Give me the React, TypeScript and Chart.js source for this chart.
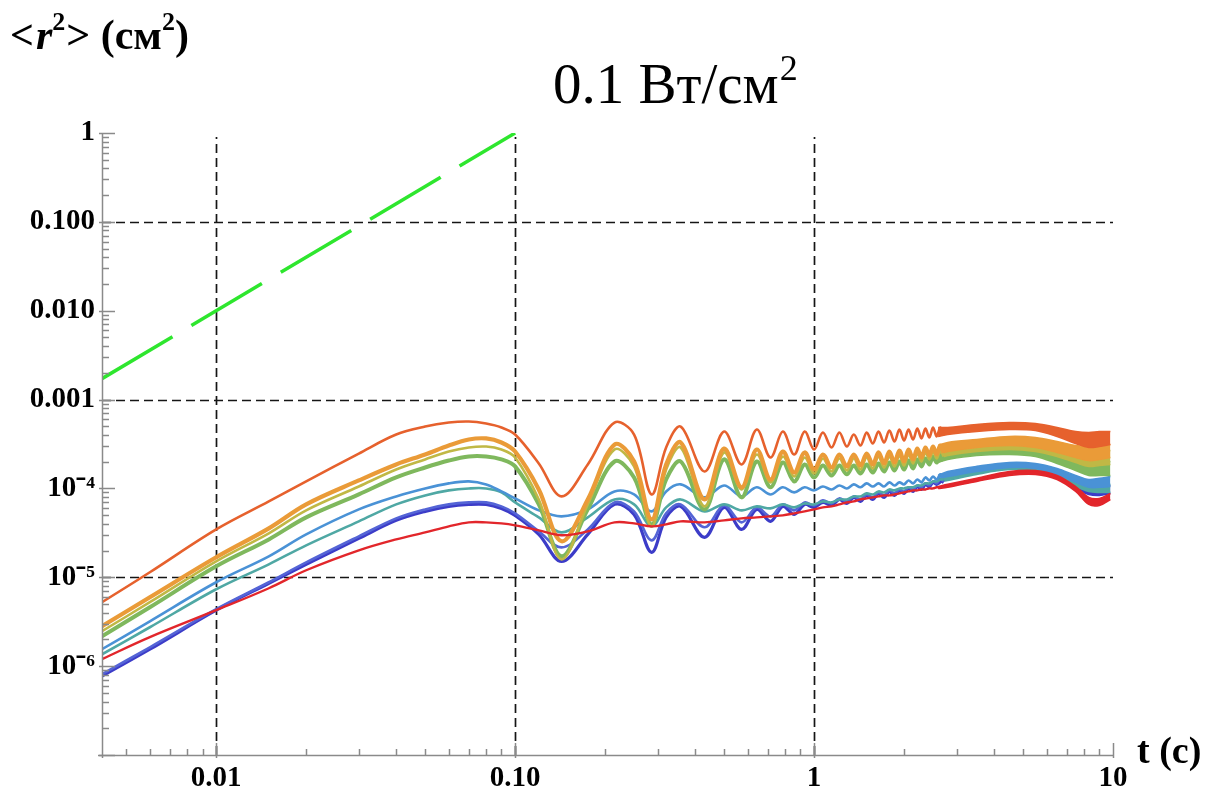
import React, { useEffect, useRef } from 'react';
import { Chart, registerables } from 'chart.js';

Chart.register(...registerables);

// ---- time grid (s) for the resolved part of the curves ----
const T = [0.00415, 0.006, 0.01, 0.015, 0.02, 0.03, 0.04, 0.05, 0.06, 0.07, 0.08, 0.09, 0.1, 0.12, 0.143, 0.175, 0.215, 0.25, 0.286, 0.32, 0.358, 0.43, 0.5, 0.572, 0.643, 0.715, 0.786, 0.858, 0.93, 1.0, 1.07, 1.144, 1.215, 1.287, 1.358, 1.43, 1.5, 1.572, 1.643, 1.715, 1.786, 1.858, 1.93, 2.0, 2.07, 2.144, 2.215, 2.287, 2.358, 2.43, 2.5, 2.572, 2.643, 2.715];

// <r^2> (cm^2) series
const S_ORANGERED = [5.24e-6, 1.14e-5, 3.46e-5, 7.14e-5, 1.20e-4, 2.47e-4, 4.04e-4, 4.97e-4, 5.51e-4, 5.66e-4, 5.37e-4, 4.85e-4, 4.04e-4, 1.91e-4, 8.13e-5, 1.86e-4, 5.51e-4, 4.04e-4, 8.56e-5, 2.89e-4, 4.97e-4, 1.55e-4, 4.37e-4, 1.86e-4, 4.60e-4, 2.23e-4, 4.37e-4, 2.41e-4, 4.37e-4, 2.74e-4, 4.26e-4, 2.89e-4, 4.26e-4, 2.96e-4, 4.04e-4, 3.04e-4, 4.26e-4, 3.20e-4, 4.37e-4, 3.29e-4, 4.48e-4, 3.37e-4, 4.60e-4, 3.46e-4, 4.60e-4, 3.55e-4, 4.72e-4, 3.65e-4, 4.72e-4, 3.74e-4, 4.85e-4, 3.84e-4, 4.85e-4, 3.94e-4];
const S_ORANGE = [2.81e-6, 5.96e-6, 1.68e-5, 3.55e-5, 6.61e-5, 1.23e-4, 1.86e-4, 2.41e-4, 3.04e-4, 3.55e-4, 3.65e-4, 3.29e-4, 2.60e-4, 9.74e-5, 2.54e-5, 7.52e-5, 3.12e-4, 2.01e-4, 4.48e-5, 1.86e-4, 3.29e-4, 7.52e-5, 2.81e-4, 1.03e-4, 2.74e-4, 1.26e-4, 2.60e-4, 1.51e-4, 2.54e-4, 1.63e-4, 2.41e-4, 1.72e-4, 2.41e-4, 1.77e-4, 2.41e-4, 1.81e-4, 2.47e-4, 1.86e-4, 2.54e-4, 1.91e-4, 2.60e-4, 1.96e-4, 2.67e-4, 2.01e-4, 2.74e-4, 2.12e-4, 2.81e-4, 2.23e-4, 2.89e-4, 2.35e-4, 2.96e-4, 2.41e-4, 3.04e-4, 2.54e-4];
const S_OLIVE = [2.47e-6, 5.24e-6, 1.51e-5, 3.12e-5, 5.66e-5, 1.05e-4, 1.63e-4, 2.12e-4, 2.60e-4, 2.89e-4, 2.96e-4, 2.74e-4, 2.23e-4, 7.52e-5, 1.59e-5, 6.61e-5, 2.74e-4, 1.77e-4, 3.74e-5, 1.63e-4, 2.89e-4, 6.28e-5, 2.54e-4, 9.74e-5, 2.41e-4, 1.17e-4, 2.29e-4, 1.36e-4, 2.23e-4, 1.47e-4, 2.17e-4, 1.55e-4, 2.17e-4, 1.59e-4, 2.17e-4, 1.63e-4, 2.23e-4, 1.68e-4, 2.29e-4, 1.72e-4, 2.29e-4, 1.77e-4, 2.35e-4, 1.81e-4, 2.41e-4, 1.91e-4, 2.47e-4, 2.01e-4, 2.54e-4, 2.12e-4, 2.60e-4, 2.17e-4, 2.67e-4, 2.29e-4];
const S_GREEN = [2.17e-6, 4.60e-6, 1.33e-5, 2.67e-5, 4.72e-5, 8.56e-5, 1.33e-4, 1.72e-4, 2.06e-4, 2.29e-4, 2.29e-4, 2.12e-4, 1.77e-4, 6.61e-5, 1.72e-5, 5.81e-5, 2.01e-4, 1.33e-4, 3.94e-5, 1.26e-4, 2.01e-4, 5.81e-5, 2.12e-4, 7.93e-5, 2.01e-4, 1.03e-4, 1.96e-4, 1.20e-4, 1.86e-4, 1.33e-4, 1.81e-4, 1.40e-4, 1.81e-4, 1.44e-4, 1.81e-4, 1.47e-4, 1.86e-4, 1.51e-4, 1.91e-4, 1.55e-4, 1.96e-4, 1.59e-4, 2.01e-4, 1.63e-4, 2.06e-4, 1.68e-4, 2.12e-4, 1.77e-4, 2.17e-4, 1.86e-4, 2.29e-4, 1.96e-4, 2.35e-4, 2.06e-4];
const S_LIGHTBLUE = [1.55e-6, 3.20e-6, 8.79e-6, 1.72e-5, 3.04e-5, 5.81e-5, 8.13e-5, 1.00e-4, 1.14e-4, 1.20e-4, 1.11e-4, 9.25e-5, 7.72e-5, 5.66e-5, 4.85e-5, 5.81e-5, 9.25e-5, 8.56e-5, 5.52e-5, 9.25e-5, 1.11e-4, 7.93e-5, 1.08e-4, 8.13e-5, 1.03e-4, 8.56e-5, 1.03e-4, 9.02e-5, 1.03e-4, 9.50e-5, 1.05e-4, 9.74e-5, 1.08e-4, 1.00e-4, 1.11e-4, 1.03e-4, 1.14e-4, 1.05e-4, 1.14e-4, 1.05e-4, 1.17e-4, 1.08e-4, 1.17e-4, 1.11e-4, 1.23e-4, 1.14e-4, 1.26e-4, 1.17e-4, 1.33e-4, 1.23e-4, 1.36e-4, 1.26e-4, 1.44e-4, 1.33e-4];
const S_TEAL = [1.36e-6, 2.74e-6, 7.33e-6, 1.40e-5, 2.29e-5, 4.26e-5, 6.61e-5, 8.35e-5, 9.50e-5, 1.00e-4, 1.00e-4, 9.02e-5, 6.96e-5, 4.72e-5, 3.20e-5, 4.72e-5, 7.52e-5, 6.61e-5, 3.74e-5, 6.12e-5, 7.52e-5, 5.52e-5, 6.61e-5, 5.66e-5, 6.28e-5, 5.96e-5, 6.61e-5, 6.12e-5, 6.78e-5, 6.61e-5, 7.14e-5, 6.96e-5, 7.52e-5, 7.52e-5, 8.13e-5, 8.13e-5, 8.79e-5, 8.56e-5, 9.25e-5, 9.02e-5, 9.74e-5, 9.50e-5, 1.00e-4, 1.00e-4, 1.03e-4, 1.03e-4, 1.08e-4, 1.08e-4, 1.14e-4, 1.14e-4, 1.20e-4, 1.20e-4, 1.26e-4, 1.26e-4];
const S_INDIGO = [7.72e-7, 1.55e-6, 4.26e-6, 8.57e-6, 1.40e-5, 2.74e-5, 4.37e-5, 5.52e-5, 6.28e-5, 6.61e-5, 6.61e-5, 5.96e-5, 4.97e-5, 3.04e-5, 1.51e-5, 3.04e-5, 6.61e-5, 5.10e-5, 1.91e-5, 4.72e-5, 6.28e-5, 2.82e-5, 6.12e-5, 3.46e-5, 5.81e-5, 4.26e-5, 6.28e-5, 5.10e-5, 6.61e-5, 6.12e-5, 6.96e-5, 6.44e-5, 7.52e-5, 6.78e-5, 7.93e-5, 7.14e-5, 8.35e-5, 7.52e-5, 8.79e-5, 7.93e-5, 9.25e-5, 8.35e-5, 9.50e-5, 8.79e-5, 1.00e-4, 9.25e-5, 1.05e-4, 9.74e-5, 1.11e-4, 1.05e-4, 1.17e-4, 1.11e-4, 1.23e-4, 1.17e-4];
const S_BLUE = [8.13e-7, 1.63e-6, 4.37e-6, 8.79e-6, 1.47e-5, 2.89e-5, 4.60e-5, 5.81e-5, 6.61e-5, 6.96e-5, 6.96e-5, 6.28e-5, 5.24e-5, 3.29e-5, 2.17e-5, 3.46e-5, 6.96e-5, 5.52e-5, 2.60e-5, 5.24e-5, 6.61e-5, 3.65e-5, 6.44e-5, 4.15e-5, 6.12e-5, 4.85e-5, 6.61e-5, 5.66e-5, 6.96e-5, 6.44e-5, 7.33e-5, 6.78e-5, 7.72e-5, 7.14e-5, 8.13e-5, 7.52e-5, 8.56e-5, 7.93e-5, 9.02e-5, 8.35e-5, 9.50e-5, 8.79e-5, 9.74e-5, 9.25e-5, 1.03e-4, 9.74e-5, 1.08e-4, 1.03e-4, 1.14e-4, 1.08e-4, 1.20e-4, 1.14e-4, 1.26e-4, 1.20e-4];
const S_RED = [1.20e-6, 2.12e-6, 4.26e-6, 7.53e-6, 1.20e-5, 2.01e-5, 2.67e-5, 3.20e-5, 3.74e-5, 4.15e-5, 4.15e-5, 4.04e-5, 3.84e-5, 3.37e-5, 2.97e-5, 3.29e-5, 4.15e-5, 4.04e-5, 3.74e-5, 3.94e-5, 4.26e-5, 4.15e-5, 4.37e-5, 4.60e-5, 4.72e-5, 4.85e-5, 4.97e-5, 5.24e-5, 5.52e-5, 5.81e-5, 6.12e-5, 6.28e-5, 6.61e-5, 6.96e-5, 7.14e-5, 7.52e-5, 7.72e-5, 7.93e-5, 8.13e-5, 8.35e-5, 8.35e-5, 8.56e-5, 8.79e-5, 9.02e-5, 9.25e-5, 9.50e-5, 9.50e-5, 9.74e-5, 9.74e-5, 1.00e-4, 1.00e-4, 1.03e-4, 1.03e-4, 1.05e-4];

// ---- late times: fast oscillations seen as bands (upper / lower envelope) ----
const TB = [2.6, 2.8, 3.5, 4.5, 5.5, 6.5, 7.5, 8.3, 9.0, 9.8];
const B_ORANGERED_HI = [4.85e-4, 4.85e-4, 5.24e-4, 5.51e-4, 5.37e-4, 4.85e-4, 4.37e-4, 4.26e-4, 4.37e-4, 4.37e-4];
const B_ORANGERED_LO = [3.84e-4, 4.04e-4, 4.37e-4, 4.60e-4, 4.48e-4, 3.84e-4, 3.20e-4, 2.89e-4, 2.96e-4, 3.12e-4];
const B_ORANGE_HI = [3.04e-4, 3.29e-4, 3.55e-4, 3.84e-4, 3.74e-4, 3.37e-4, 3.04e-4, 2.96e-4, 3.04e-4, 3.12e-4];
const B_ORANGE_LO = [2.41e-4, 2.60e-4, 2.89e-4, 3.04e-4, 2.89e-4, 2.54e-4, 2.23e-4, 2.06e-4, 2.12e-4, 2.23e-4];
const B_OLIVE_HI = [2.67e-4, 2.96e-4, 3.20e-4, 3.46e-4, 3.37e-4, 3.04e-4, 2.67e-4, 2.54e-4, 2.60e-4, 2.67e-4];
const B_OLIVE_LO = [2.17e-4, 2.35e-4, 2.60e-4, 2.74e-4, 2.60e-4, 2.29e-4, 1.96e-4, 1.77e-4, 1.81e-4, 1.86e-4];
const B_GREEN_HI = [2.35e-4, 2.60e-4, 2.81e-4, 2.96e-4, 2.81e-4, 2.47e-4, 2.12e-4, 1.96e-4, 1.96e-4, 2.01e-4];
const B_GREEN_LO = [1.96e-4, 2.12e-4, 2.35e-4, 2.41e-4, 2.29e-4, 1.91e-4, 1.59e-4, 1.40e-4, 1.40e-4, 1.40e-4];
const B_LIGHTBLUE_HI = [1.40e-4, 1.55e-4, 1.77e-4, 1.96e-4, 1.91e-4, 1.68e-4, 1.40e-4, 1.26e-4, 1.30e-4, 1.36e-4];
const B_LIGHTBLUE_LO = [1.30e-4, 1.36e-4, 1.55e-4, 1.72e-4, 1.68e-4, 1.44e-4, 1.17e-4, 1.03e-4, 1.03e-4, 1.05e-4];
const B_TEAL_HI = [1.26e-4, 1.36e-4, 1.59e-4, 1.81e-4, 1.77e-4, 1.51e-4, 1.23e-4, 1.08e-4, 1.08e-4, 1.11e-4];
const B_TEAL_LO = [1.20e-4, 1.23e-4, 1.44e-4, 1.63e-4, 1.59e-4, 1.33e-4, 1.05e-4, 9.25e-5, 9.02e-5, 9.02e-5];
const B_INDIGO_HI = [1.20e-4, 1.44e-4, 1.68e-4, 1.86e-4, 1.86e-4, 1.55e-4, 1.20e-4, 1.00e-4, 1.03e-4, 1.08e-4];
const B_INDIGO_LO = [1.11e-4, 1.30e-4, 1.51e-4, 1.68e-4, 1.63e-4, 1.36e-4, 1.00e-4, 8.56e-5, 8.35e-5, 8.79e-5];
const B_RED_HI = [1.05e-4, 1.11e-4, 1.30e-4, 1.55e-4, 1.59e-4, 1.40e-4, 1.05e-4, 7.93e-5, 7.72e-5, 8.79e-5];
const B_RED_LO = [1.00e-4, 1.03e-4, 1.20e-4, 1.40e-4, 1.44e-4, 1.26e-4, 9.25e-5, 6.61e-5, 6.44e-5, 7.52e-5];

// ---- free-diffusion reference line (green dashed) ----
const REF_T = [0.00415, 0.1];
const REF_V = [1.72e-3, 1.0];

// ---- axes ----
const X_MIN = 0.00415;
const X_MAX = 10;
const Y_MIN = 1e-7;
const Y_MAX = 1;
const X_TICK_VALUES = [0.01, 0.1, 1, 10];
const X_TICK_LABELS = ['0.01', '0.10', '1', '10'];
const Y_TICK_VALUES = [1e-6, 1e-5, 1e-4, 0.001, 0.01, 0.1, 1];
const Y_TICK_LABELS = ['10⁻⁶', '10⁻⁵', '10⁻⁴', '0.001', '0.010', '0.100', '1'];
const X_GRID = [0.01, 0.1, 1];
const Y_GRID = [1e-5, 0.001, 0.1];

const C = {
  orangered: '#e6612d',
  orange: '#ea9b38',
  olive: '#c0b845',
  green: '#7fb85d',
  lightblue: '#4a92d6',
  teal: '#4fa8a4',
  indigo: '#3c3cc8',
  blue: '#5464d6',
  red: '#e2262b',
  ref: '#2ee62e',
};

const SERIF = '"Liberation Serif", "Times New Roman", serif';

function labelFor(values: number[], labels: string[], v: number): string {
  for (let i = 0; i < values.length; i++) {
    if (Math.abs(Math.log10(v / values[i])) < 1e-6) return labels[i];
  }
  return '';
}

function line(ts: number[], vs: number[], color: string, width: number, extra: any = {}) {
  return {
    data: ts.map((t, i) => ({ x: t, y: vs[i] })),
    borderColor: color,
    backgroundColor: color,
    borderWidth: width,
    pointRadius: 0,
    pointHoverRadius: 0,
    fill: false,
    tension: 0.35,
    ...extra,
  };
}

function band(hi: number[], lo: number[], color: string) {
  return [
    line(TB, hi, color, 1.6, { fill: '+1', backgroundColor: color }),
    line(TB, lo, color, 1.6),
  ];
}

const decorPlugin = {
  id: 'decor',
  beforeDatasetsDraw(chart: any) {
    const { ctx, chartArea, scales } = chart;
    const { left, right, top, bottom } = chartArea;
    ctx.save();
    ctx.strokeStyle = '#151515';
    ctx.lineWidth = 1.7;
    ctx.setLineDash([9, 5]);
    X_GRID.forEach((v) => {
      const px = Math.round(scales.x.getPixelForValue(v)) + 0.5;
      ctx.beginPath();
      ctx.moveTo(px, bottom);
      ctx.lineTo(px, top + 4);
      ctx.stroke();
    });
    Y_GRID.forEach((v) => {
      const py = Math.round(scales.y.getPixelForValue(v)) + 0.5;
      ctx.beginPath();
      ctx.moveTo(left, py);
      ctx.lineTo(right, py);
      ctx.stroke();
    });
    ctx.restore();
  },
  afterDatasetsDraw(chart: any) {
    const { ctx, chartArea, scales } = chart;
    const { left, right, top, bottom } = chartArea;
    ctx.save();
    ctx.setLineDash([]);
    ctx.strokeStyle = '#8a8a8a';
    ctx.lineWidth = 1.5;
    ctx.beginPath();
    ctx.moveTo(left + 0.5, bottom + 3);
    ctx.lineTo(left + 0.5, top);
    ctx.moveTo(left - 4, bottom + 0.5);
    ctx.lineTo(right, bottom + 0.5);
    ctx.stroke();
    ctx.beginPath();
    for (let e = -7; e <= 0; e++) {
      const base = Math.pow(10, e);
      const py = Math.round(scales.y.getPixelForValue(base)) + 0.5;
      ctx.moveTo(left - 3, py);
      ctx.lineTo(left + 13, py);
      if (e < 0) {
        for (let m = 2; m <= 9; m++) {
          const q = Math.round(scales.y.getPixelForValue(m * base)) + 0.5;
          ctx.moveTo(left, q);
          ctx.lineTo(left + 7, q);
        }
      }
    }
    for (let e = -3; e <= 1; e++) {
      const base = Math.pow(10, e);
      for (let m = 1; m <= 9; m++) {
        const v = m * base;
        if (v < X_MIN || v > X_MAX * 1.0001) continue;
        const px = Math.round(scales.x.getPixelForValue(v)) + 0.5;
        ctx.moveTo(px, bottom + (m === 1 ? 3 : 0));
        ctx.lineTo(px, bottom - (m === 1 ? 12 : 6));
      }
    }
    ctx.stroke();

    // y-axis title  <r²> (см²)
    ctx.fillStyle = '#000';
    ctx.textBaseline = 'alphabetic';
    ctx.textAlign = 'left';
    let x = 10;
    const by = 49;
    const big = `bold 42px ${SERIF}`;
    const sup = `bold 26px ${SERIF}`;
    ctx.font = big;
    ctx.fillText('<', x, by); x += ctx.measureText('<').width + 2;
    ctx.font = `bold italic 42px ${SERIF}`;
    ctx.fillText('r', x, by); x += ctx.measureText('r').width;
    ctx.font = sup;
    ctx.fillText('2', x, by - 19); x += ctx.measureText('2').width + 1;
    ctx.font = big;
    ctx.fillText('> (см', x, by); x += ctx.measureText('> (см').width;
    ctx.font = sup;
    ctx.fillText('2', x, by - 19); x += ctx.measureText('2').width;
    ctx.font = big;
    ctx.fillText(')', x, by);

    // title 0.1 Вт/см²
    ctx.font = `57px ${SERIF}`;
    let tx = 553;
    const ty = 103;
    ctx.fillText('0.1 Вт/см', tx, ty); tx += ctx.measureText('0.1 Вт/см').width + 1;
    ctx.font = `36px ${SERIF}`;
    ctx.fillText('2', tx, ty - 23);

    // x-axis title
    ctx.font = `bold 38px ${SERIF}`;
    ctx.fillText('t (с)', 1137, 763);
    ctx.restore();
  },
};

export default function App() {
  const ref = useRef<HTMLCanvasElement>(null);
  useEffect(() => {
    document.body.style.margin = '0';
    const datasets: any[] = [
      line(REF_T, REF_V, C.ref, 3.5, { borderDash: [82, 22], tension: 0 }),
      line(T, S_RED, C.red, 2.4),
      line(T, S_ORANGERED, C.orangered, 2.6),
      line(T, S_ORANGE, C.orange, 4.2),
      line(T, S_OLIVE, C.olive, 2.6),
      line(T, S_GREEN, C.green, 4),
      line(T, S_LIGHTBLUE, C.lightblue, 2.6),
      line(T, S_TEAL, C.teal, 2.6),
      line(T, S_BLUE, C.blue, 2.6),
      line(T, S_INDIGO, C.indigo, 3.2),
      ...band(B_RED_HI, B_RED_LO, C.red),
      ...band(B_ORANGERED_HI, B_ORANGERED_LO, C.orangered),
      ...band(B_ORANGE_HI, B_ORANGE_LO, C.orange),
      ...band(B_OLIVE_HI, B_OLIVE_LO, C.olive),
      ...band(B_GREEN_HI, B_GREEN_LO, C.green),
      ...band(B_LIGHTBLUE_HI, B_LIGHTBLUE_LO, C.lightblue),
      ...band(B_TEAL_HI, B_TEAL_LO, C.teal),
      ...band(B_INDIGO_HI, B_INDIGO_LO, C.indigo),
    ];
    const tickFont = { family: SERIF, size: 29, weight: 'bold' as const };
    const chart = new Chart(ref.current as HTMLCanvasElement, {
      type: 'line',
      data: { datasets },
      options: {
        animation: false,
        responsive: false,
        devicePixelRatio: 1,
        events: [],
        layout: { padding: { left: 0, right: 110, top: 133, bottom: 0 } },
        plugins: { legend: { display: false }, tooltip: { enabled: false }, title: { display: false } },
        scales: {
          x: {
            type: 'logarithmic',
            min: X_MIN,
            max: X_MAX,
            grid: { display: false, drawTicks: false },
            border: { display: false },
            afterBuildTicks: (scale: any) => {
              scale.ticks = X_TICK_VALUES.map((v) => ({ value: v }));
            },
            afterFit: (scale: any) => {
              scale.height = 41;
            },
            ticks: {
              autoSkip: false,
              maxRotation: 0,
              minRotation: 0,
              padding: 6,
              color: '#000',
              font: tickFont,
              callback: (v: any) => labelFor(X_TICK_VALUES, X_TICK_LABELS, Number(v)),
            },
          },
          y: {
            type: 'logarithmic',
            min: Y_MIN,
            max: Y_MAX,
            grid: { display: false, drawTicks: false },
            border: { display: false },
            afterBuildTicks: (scale: any) => {
              scale.ticks = Y_TICK_VALUES.map((v) => ({ value: v }));
            },
            afterFit: (scale: any) => {
              scale.width = 102;
            },
            ticks: {
              autoSkip: false,
              padding: 7,
              color: '#000',
              font: tickFont,
              callback: (v: any) => labelFor(Y_TICK_VALUES, Y_TICK_LABELS, Number(v)),
            },
          },
        },
      } as any,
      plugins: [decorPlugin],
    });
    return () => chart.destroy();
  }, []);
  return (
    <div style={{ position: 'relative', width: 1223, height: 796, background: '#fff' }}>
      <canvas ref={ref} width={1223} height={796} style={{ display: 'block', width: 1223, height: 796 }} />
    </div>
  );
}
